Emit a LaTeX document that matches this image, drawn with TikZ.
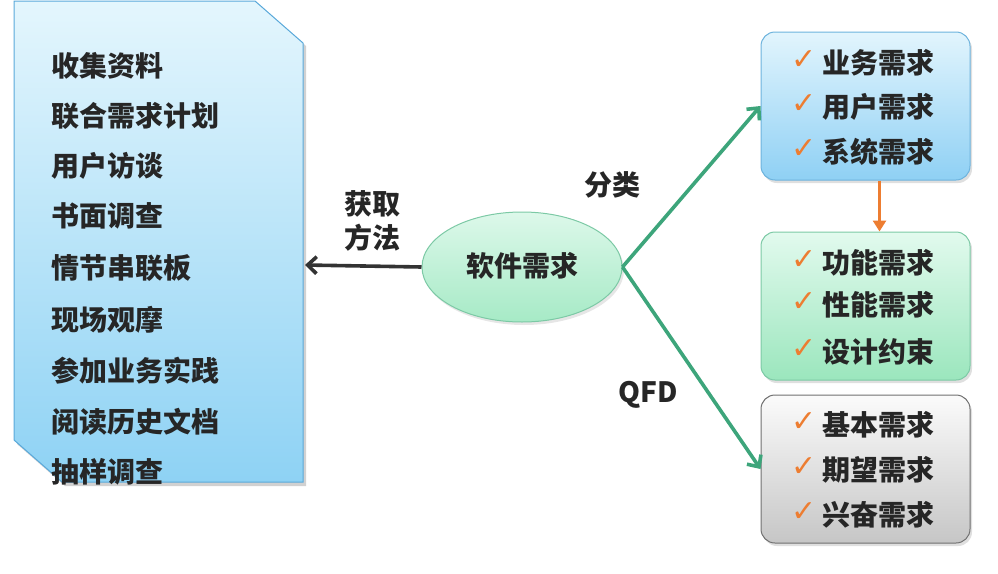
\documentclass[tikz,border=0pt]{standalone}
\usepackage{fontspec}
\setmainfont{Noto Sans CJK SC}
\newfontfamily\symfont{DejaVu Sans}
\usetikzlibrary{shadows,arrows.meta,shapes.geometric}
\definecolor{txt}{HTML}{262626}
\definecolor{lbTop}{HTML}{E4F6FD}
\definecolor{lbBot}{HTML}{8ED2F4}
\definecolor{lbLine}{HTML}{5AA9DA}
\definecolor{elTop}{HTML}{DDF8EA}
\definecolor{elBot}{HTML}{A6EAC6}
\definecolor{elLine}{HTML}{7CC9A5}
\definecolor{bTop}{HTML}{E2F5FD}
\definecolor{bBot}{HTML}{8FD0F4}
\definecolor{bLine}{HTML}{6DB3DD}
\definecolor{gTop}{HTML}{E2FAEE}
\definecolor{gBot}{HTML}{9BE6BD}
\definecolor{gLine}{HTML}{7CC9A5}
\definecolor{hTop}{HTML}{FBFBFB}
\definecolor{hBot}{HTML}{C6C6C6}
\definecolor{hLine}{HTML}{707070}
\definecolor{grArrow}{HTML}{3DA57B}
\definecolor{orArrow}{HTML}{ED7D31}
\definecolor{blArrow}{HTML}{333333}
\tikzset{
  lbl/.style={font=\fontsize{28}{30}\selectfont\bfseries, text=txt, inner sep=0pt},
  item/.style={lbl, anchor=west},
  chk/.style={font=\symfont\fontsize{30}{32}\selectfont, text=orArrow, inner sep=0pt},
  rbox/.style={draw, line width=1pt, rounded corners=14pt, minimum width=209pt, minimum height=148pt,
    drop shadow={opacity=0.25, shadow xshift=2pt, shadow yshift=-3pt}},
  conn/.style={line width=3.6pt},
  barb/.style={-{Straight Barb[length=9pt,width=17pt,line width=3.6pt]}},
}
\begin{document}
\begin{tikzpicture}[x=1pt,y=-1pt]
\useasboundingbox (0,0) rectangle (998,573);
% left box
\path[fill=black, opacity=0.18] (17,4) -- (258,4) -- (306,46) -- (306,486) -- (65,486) -- (17,444) -- cycle;
\path[draw=lbLine, line width=1pt, top color=lbTop, bottom color=lbBot]
  (14,1) -- (255,1) -- (303,43) -- (303,482) -- (62,482) -- (14,440) -- cycle;
\coordinate (leftbox) at (305,265);
\node[item] (l1) at (51,66) {收集资料};
\node[item] (l2) at (51,116) {联合需求计划};
\node[item] (l3) at (51,166) {用户访谈};
\node[item] (l4) at (51,216) {书面调查};
\node[item] (l5) at (51,268) {情节串联板};
\node[item] (l6) at (51,320) {现场观摩};
\node[item] (l7) at (51,371) {参加业务实践};
\node[item] (l8) at (51,422) {阅读历史文档};
\node[item] (l9) at (51,472) {抽样调查};
% ellipse
\node[ellipse, draw=elLine, line width=1pt, top color=elTop, bottom color=elBot,
  minimum width=200pt, minimum height=110pt, inner sep=0pt,
  drop shadow={opacity=0.2, shadow xshift=2pt, shadow yshift=-3pt}] (soft) at (522,267) {};
\node[lbl] (softt) at (522,266) {软件需求};
% labels
\node[lbl] (get1) at (372,204) {获取};
\node[lbl] (get2) at (372,238) {方法};
\node[lbl] (cls) at (612,185) {分类};
\node[lbl] (qfd) at (648,395) {QFD};
% right boxes
\node[rbox, draw=bLine, top color=bTop, bottom color=bBot] (b1) at (865.5,106) {};
\node[rbox, draw=gLine, top color=gTop, bottom color=gBot] (b2) at (865.5,306) {};
\node[rbox, draw=hLine, top color=hTop, bottom color=hBot] (b3) at (865.5,469) {};
\foreach \y/\t [count=\i] in {63/业务需求,107/用户需求,152/系统需求,263/功能需求,305/性能需求,352/设计约束,425/基本需求,470/期望需求,515/兴奋需求}{
  \node[chk] (c\i) at (804,\y-3) {✓};
  \node[item] (r\i) at (822,\y) {\t};
}
% connectors
\draw[conn, blArrow, barb] (soft.west) -- (leftbox);
\draw[conn, grArrow, barb] (soft.east) -- (b1.west);
\draw[conn, grArrow, barb] (soft.east) -- (b3.west);
\draw[conn, orArrow, -{Triangle[length=11pt,width=13pt]}] (b1.south) ++(14,0) coordinate (o1) -- (o1 |- b2.north);
\end{tikzpicture}
\end{document}
